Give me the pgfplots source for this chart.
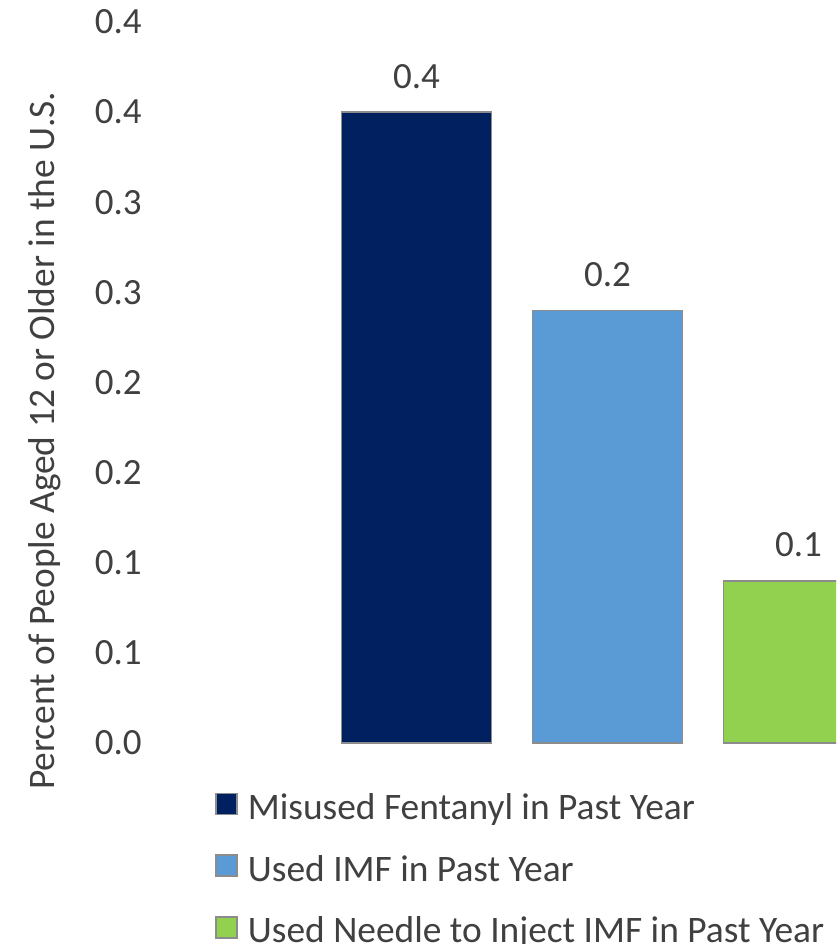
\documentclass[border=0pt]{standalone}
\usepackage{pgfplots}
\pgfplotsset{compat=1.18}
\usepackage{fontspec}
\setmainfont{Carlito}

\definecolor{navybar}{HTML}{002060}
\definecolor{bluebar}{HTML}{5B9BD5}
\definecolor{greenbar}{HTML}{92D050}
\definecolor{txt}{HTML}{404040}
\definecolor{edge}{HTML}{8C8C8C}

\begin{document}
\begin{tikzpicture}
\begin{axis}[
  scale only axis,
  width=343pt, height=360.5pt,
  xmin=-1.3953, xmax=2.1963,
  ymin=0, ymax=0.4,
  ybar=0pt, bar width=0.785, bar shift=0pt,
  axis line style={draw=none},
  tick style={draw=none},
  major tick length=0pt,
  xtick=\empty,
  ytick={0,0.05,0.1,0.15,0.2,0.25,0.3,0.35,0.4},
  yticklabels={0.0,0.1,0.1,0.2,0.2,0.3,0.3,0.4,0.4},
  yticklabel style={font=\fontsize{18.5pt}{22pt}\selectfont, text=txt, inner sep=4pt},
  ylabel={Percent of People Aged 12 or Older in the U.S.},
  every axis y label/.style={at={(rel axis cs:0,0.419)}, xshift=-52.5pt, rotate=90,
    anchor=center, font=\fontsize{18.7pt}{22pt}\selectfont, text=txt},
  nodes near coords={\pgfmathprintnumber[fixed,precision=1,assume math mode=true]{\pgfplotspointmeta}},
  every node near coord/.append style={anchor=south, inner sep=0pt, yshift=11.5pt,
    font=\fontsize{18.5pt}{22pt}\selectfont, text=txt},
  legend cell align=left,
  legend style={at={(rel axis cs:0.0948,-0.0685)}, anchor=north west,
    draw=none, fill=none, inner sep=0pt, row sep=15pt,
    font=\fontsize{18.7pt}{22pt}\selectfont, text=txt,
    nodes={inner sep=0pt, text height=0.7em, text depth=0.25em},
    /tikz/every odd column/.append style={column sep=5pt}},
]
\addplot[fill=navybar, draw=edge, line width=0.75pt,
  legend image code/.code={\draw[fill=navybar, draw=edge, line width=0.75pt] (0pt,0.2pt) rectangle (10.5pt,10.7pt);}]
  coordinates {(0,0.35)};
\addlegendentry{Misused Fentanyl in Past Year}
\addplot[fill=bluebar, draw=edge, line width=0.75pt,
  legend image code/.code={\draw[fill=bluebar, draw=edge, line width=0.75pt] (0pt,0.2pt) rectangle (10.5pt,10.7pt);}]
  coordinates {(1,0.24)};
\addlegendentry{Used IMF in Past Year}
\addplot[fill=greenbar, draw=edge, line width=0.75pt,
  legend image code/.code={\draw[fill=greenbar, draw=edge, line width=0.75pt] (0pt,0.2pt) rectangle (10.5pt,10.7pt);}]
  coordinates {(2,0.09)};
\addlegendentry{Used Needle to Inject IMF in Past Year}
\coordinate (sw) at (rel axis cs:0,0);
\coordinate (ne) at (rel axis cs:1,1);
\end{axis}
\pgfresetboundingbox
\path[use as bounding box] ([xshift=-75pt,yshift=-100.5pt]sw) rectangle ([yshift=11pt]ne);
\end{tikzpicture}
\end{document}
